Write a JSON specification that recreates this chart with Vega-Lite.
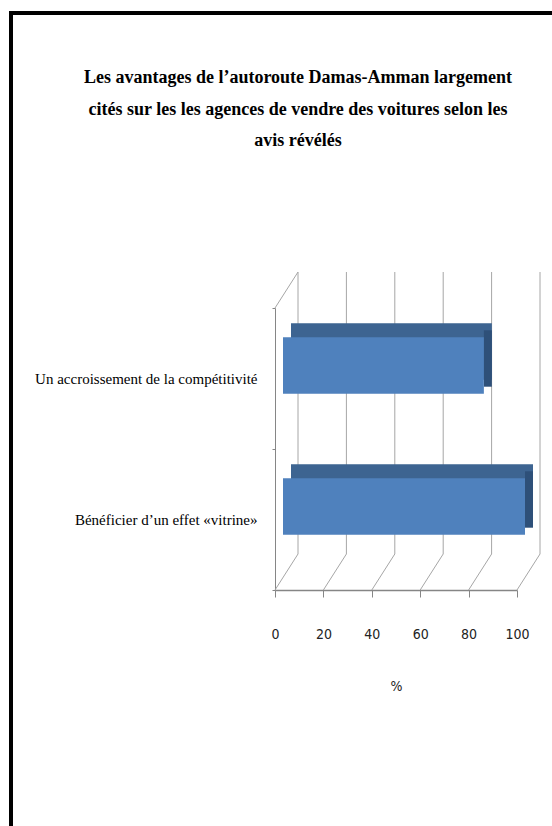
{
  "$schema": "https://vega.github.io/schema/vega-lite/v6.json",
  "width": 560,
  "height": 830,
  "autosize": {"type": "none"},
  "padding": {"left": 11, "top": 13, "right": 0, "bottom": 0},
  "background": "white",
  "config": {
    "view": {"stroke": "black", "strokeWidth": 4},
    "axis": {"grid": false},
    "axisX": {
      "orient": "bottom", "offset": -253, "tickCount": 5, "labelFlush": false,
      "domainColor": "#868686", "domainWidth": 1.5, "tickColor": "#868686", "tickSize": 7,
      "labelFont": "DejaVu Sans Condensed, Roboto, sans-serif", "labelFontSize": 14, "labelColor": "#222222", "labelPadding": 30,
      "titleFont": "DejaVu Sans Condensed, Roboto, sans-serif", "titleFontSize": 14, "titleFontWeight": "normal", "titleColor": "#222222", "titlePadding": 38
    },
    "axisY": {
      "orient": "left", "offset": -264, "tickBand": "extent",
      "domainColor": "#868686", "domainWidth": 1, "tickColor": "#868686", "tickSize": 3,
      "labelFont": "Liberation Serif", "labelFontSize": 15, "labelColor": "black", "labelPadding": 15, "labelLimit": 400
    }
  },
  "title": {
    "text": ["Les avantages de l’autoroute Damas-Amman largement", "cités sur les les agences de vendre des voitures selon les", "avis révélés"],
    "font": "Liberation Serif",
    "fontSize": 18,
    "fontWeight": "bold",
    "color": "black",
    "anchor": "middle",
    "baseline": "top",
    "offset": -144,
    "dx": 7,
    "lineHeight": 31.5
  },
  "datasets": {
    "bars": [
      {"avantage": "Un accroissement de la compétitivité", "pct": 83},
      {"avantage": "Bénéficier  d’un effet «vitrine»", "pct": 100}
    ],
    "ticks": [{"v": 0}, {"v": 20}, {"v": 40}, {"v": 60}, {"v": 80}, {"v": 100}]
  },
  "layer": [
    {
      "data": {"name": "ticks"},
      "mark": {"type": "rule", "color": "#a6a6a6", "strokeWidth": 1, "xOffset": 23, "yOffset": -36, "y2Offset": -36},
      "encoding": {
        "x": {"field": "v", "type": "quantitative", "title": "%", "scale": {"domain": [0, 100], "range": [264, 506]}},
        "y": {"datum": "Un accroissement de la compétitivité", "type": "nominal", "bandPosition": 0, "title": null, "scale": {"domain": ["Un accroissement de la compétitivité", "Bénéficier  d’un effet «vitrine»"], "range": [295, 577], "paddingInner": 0, "paddingOuter": 0}},
        "y2": {"datum": "Bénéficier  d’un effet «vitrine»", "bandPosition": 1}
      }
    },
    {
      "data": {"name": "ticks"},
      "mark": {"type": "rule", "color": "#a6a6a6", "strokeWidth": 1, "xOffset": 23, "yOffset": -36},
      "encoding": {
        "x": {"field": "v", "type": "quantitative", "title": "%"},
        "x2": {"field": "v"},
        "y": {"datum": "Bénéficier  d’un effet «vitrine»", "type": "nominal", "bandPosition": 1, "title": null},
        "y2": {"datum": "Bénéficier  d’un effet «vitrine»", "bandPosition": 1}
      }
    },
    {
      "data": {"values": [{"wall": "gauche"}]},
      "mark": {"type": "rule", "color": "#a6a6a6", "strokeWidth": 1, "xOffset": 23, "yOffset": -36},
      "encoding": {
        "x": {"datum": 0, "type": "quantitative", "title": "%"},
        "x2": {"datum": 0},
        "y": {"datum": "Un accroissement de la compétitivité", "type": "nominal", "bandPosition": 0, "title": null},
        "y2": {"datum": "Un accroissement de la compétitivité", "bandPosition": 0}
      }
    },
    {
      "data": {"name": "bars"},
      "mark": {"type": "bar", "color": "#3d6491", "height": {"band": 0.4}, "xOffset": 16, "x2Offset": 16, "yOffset": -27, "y2Offset": -27},
      "encoding": {
        "x": {"field": "pct", "type": "quantitative", "title": "%"},
        "y": {"field": "avantage", "type": "nominal", "title": null}
      }
    },
    {
      "data": {"name": "bars"},
      "mark": {"type": "bar", "color": "#2e5079", "height": {"band": 0.4}, "xOffset": 8, "x2Offset": 16, "yOffset": -20, "y2Offset": -20},
      "encoding": {
        "x": {"field": "pct", "type": "quantitative", "title": "%"},
        "x2": {"field": "pct"},
        "y": {"field": "avantage", "type": "nominal", "title": null}
      }
    },
    {
      "data": {"name": "bars"},
      "mark": {"type": "bar", "color": "#4f81bd", "height": {"band": 0.4}, "xOffset": 8, "x2Offset": 8, "yOffset": -13, "y2Offset": -13},
      "encoding": {
        "x": {"field": "pct", "type": "quantitative", "title": "%"},
        "y": {"field": "avantage", "type": "nominal", "title": null}
      }
    }
  ]
}
